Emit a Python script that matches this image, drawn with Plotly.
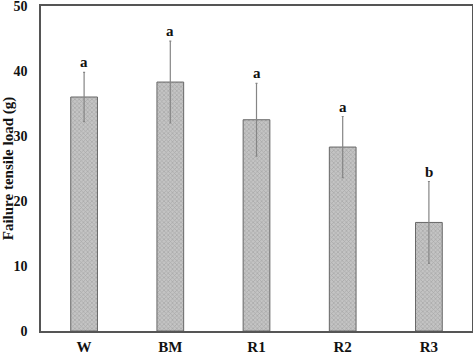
import plotly.graph_objects as go

categories = ["W", "BM", "R1", "R2", "R3"]
values = [36.0, 38.3, 32.5, 28.3, 16.7]
errors = [3.8, 6.3, 5.6, 4.7, 6.3]
letters = ["a", "a", "a", "a", "b"]
y_ticks = [0, 10, 20, 30, 40, 50]

font_family = "Liberation Serif"

fig = go.Figure()
fig.add_trace(go.Bar(
    x=categories, y=values, width=0.31,
    marker=dict(
        color="#bcbcbc",
        line=dict(color="#666666", width=1),
        pattern=dict(shape="x", size=3, solidity=0.4, fgcolor="#8a8a8a", bgcolor="#c4c4c4"),
    ),
    error_y=dict(type="data", array=errors, visible=True, color="#858585",
                 thickness=1.2, width=1),
    showlegend=False,
))

for c, v, e, t in zip(categories, values, errors, letters):
    fig.add_annotation(x=c, y=v + e, text="<b>%s</b>" % t, showarrow=False,
                       yanchor="bottom", yshift=0,
                       font=dict(family=font_family, size=15, color="#111111"))

fig.update_layout(
    width=473, height=356,
    margin=dict(l=41, r=1, t=6, b=25),
    paper_bgcolor="white", plot_bgcolor="white",
    font=dict(family=font_family, size=14, color="#111111"),
    bargap=0.69,
)
fig.update_xaxes(
    showline=True, linecolor="#555555", linewidth=1.5, mirror=True,
    ticks="", showgrid=False, ticklabelstandoff=1, automargin=False,
    ticklabeloverflow="allow",
    tickfont=dict(family=font_family, size=15, color="#111111", weight="bold"),
)
fig.update_yaxes(
    range=[0, 50], tickvals=y_ticks,
    showline=True, linecolor="#555555", linewidth=1.5, mirror=True,
    ticks="", showgrid=False, zeroline=False, ticklabelstandoff=9,
    automargin=False, ticklabeloverflow="allow",
    tickfont=dict(family=font_family, size=14, color="#111111", weight="bold"),
    title=dict(text="<b>Failure tensile load (g)</b>", standoff=3,
               font=dict(family=font_family, size=15, color="#111111")),
)

fig.write_html(
    "out.html",
    config={"displayModeBar": False},
    post_script="document.body.style.margin='0px';document.body.style.overflow='hidden';",
)
